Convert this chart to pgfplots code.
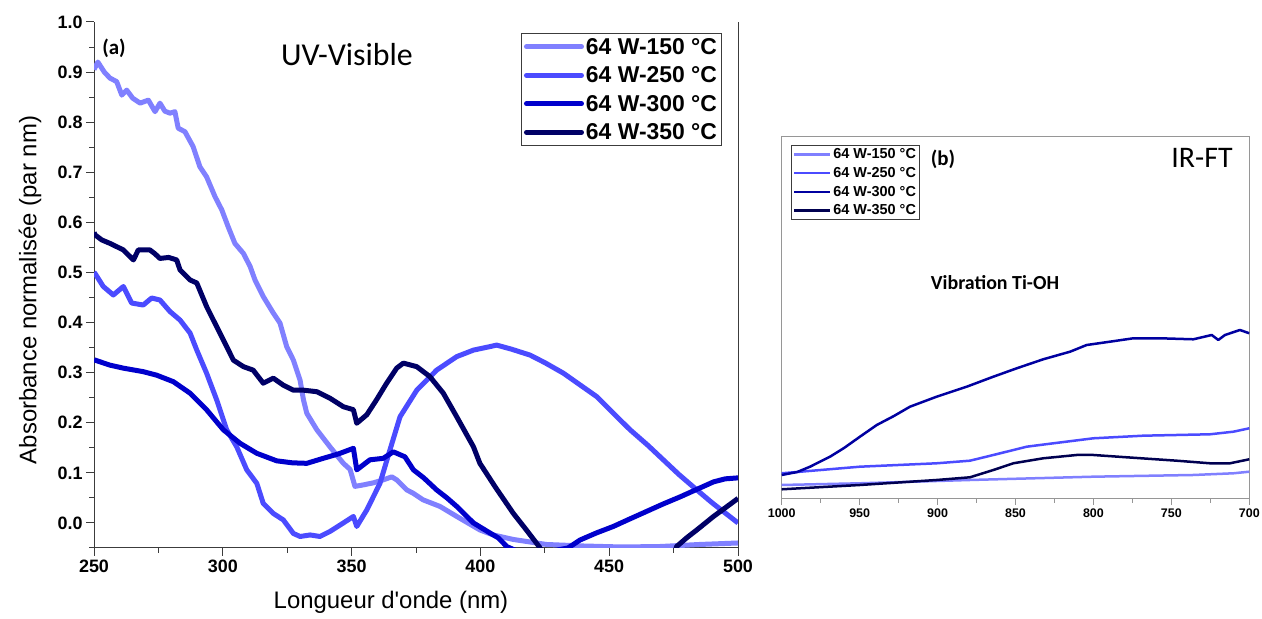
\documentclass[border=0pt]{standalone}
\usepackage{pgfplots}
\pgfplotsset{compat=1.18}
\usepackage{fontspec}
\setmainfont{Liberation Sans}
\newfontfamily\plainarial{Liberation Sans}
\newfontfamily\calibri{Carlito}
\definecolor{cA}{RGB}{128,128,255}
\definecolor{cB}{RGB}{75,75,255}
\definecolor{cC}{RGB}{0,0,204}
\definecolor{cD}{RGB}{0,0,102}
\definecolor{cCb}{RGB}{0,0,160}
\definecolor{cDb}{RGB}{0,0,80}
\definecolor{axgray}{RGB}{150,150,150}
\definecolor{axdark}{RGB}{60,60,60}

\begin{document}
\begin{tikzpicture}[x=1bp,y=1bp]
\path[use as bounding box] (0,0) rectangle (1262,619);
\begin{axis}[
  at={(94bp,71bp)}, anchor=south west, scale only axis,
  width=644bp, height=526bp,
  xmin=250, xmax=500, ymin=-0.05, ymax=1.0,
  axis x line*=bottom, axis y line*=box, ytick pos=left,
  xtick={250,300,350,400,450,500}, minor x tick num=1,
  ytick={0,0.1,0.2,0.3,0.4,0.5,0.6,0.7,0.8,0.9,1.0},
  minor ytick={-0.05,0.05,0.15,0.25,0.35,0.45,0.55,0.65,0.75,0.85,0.95},
  tick align=outside, major tick length=8bp, minor tick length=5bp,
  tick style={axdark, line width=1bp},
  axis line style={axdark, line width=1bp},
  /pgf/number format/assume math mode=true,
  ticklabel style={font=\bfseries\fontsize{18}{18}\selectfont},
  yticklabel style={/pgf/number format/fixed, /pgf/number format/fixed zerofill, /pgf/number format/precision=1},
  xticklabel style={/pgf/number format/1000 sep={}},
  legend style={at={(axis description cs:0.9752,0.9791)}, anchor=north east,
    draw=axdark, line width=1.2bp, font=\bfseries\fontsize{23}{23}\selectfont,
    row sep=7bp, inner sep=2.5bp, cells={anchor=west}},
  legend image code/.code={\draw[#1, line width=5bp, line cap=round] (0bp,0bp) -- (55bp,0bp);},
  every axis plot/.append style={line width=5bp, line join=round, no marks},
  clip=true,
]
\addplot[cA] table {
250 0.905
251.5 0.920
254 0.900
256.2 0.888
258.8 0.881
260.8 0.854
262.7 0.864
265 0.848
267.9 0.838
271.1 0.844
273.7 0.821
275.6 0.838
277.5 0.822
279.5 0.818
281.4 0.821
282.7 0.788
285.3 0.781
288.5 0.751
291.1 0.711
293.7 0.691
297 0.651
299.6 0.625
302.1 0.591
304.7 0.558
308 0.538
310.6 0.512
312.5 0.485
315.7 0.452
319.6 0.419
322.2 0.399
324.8 0.352
327.4 0.325
330 0.285
331.3 0.246
332.6 0.219
336.5 0.186
341.6 0.152
346.8 0.119
349.4 0.107
351.3 0.073
354.6 0.076
358.4 0.080
362.3 0.086
365.6 0.092
367.5 0.086
371.4 0.066
374 0.059
377.8 0.046
384.3 0.033
390.8 0.013
399.8 -0.014
405 -0.024
412.8 -0.033
425.7 -0.043
440 -0.046
455 -0.048
470 -0.047
485 -0.043
500 -0.040
};
\addlegendentry{64 W-150 °C}
\addplot[cB] table {
250 0.500
250.4 0.498
253.6 0.472
257.5 0.455
261.4 0.472
264.6 0.439
269.1 0.435
272.4 0.449
275.6 0.445
279.5 0.422
283.4 0.405
287.3 0.379
289.9 0.345
293.7 0.299
297.6 0.246
301.5 0.186
305.4 0.152
309.3 0.106
313.2 0.079
315.7 0.039
319.6 0.019
323.5 0.006
327.4 -0.021
330 -0.027
333.9 -0.024
337.7 -0.027
341.6 -0.017
346.8 0.000
350.7 0.013
352 -0.007
355.9 0.026
361 0.079
364.9 0.146
368.8 0.212
375.3 0.265
383 0.305
390.8 0.332
397.3 0.345
403.7 0.352
406.3 0.355
412 0.347
419.3 0.335
425 0.320
432.2 0.299
438 0.278
445.2 0.252
451 0.222
458.1 0.186
465 0.155
471 0.126
477 0.097
484 0.066
490 0.040
495 0.020
500 0.000
};
\addlegendentry{64 W-250 °C}
\addplot[cC] table {
250 0.327
250.4 0.325
256.2 0.315
261.4 0.309
269.1 0.302
274.3 0.295
280.8 0.282
287.3 0.259
293.7 0.226
300.2 0.186
306.7 0.159
313.2 0.139
320.9 0.124
327 0.120
332.6 0.119
339 0.129
345 0.138
350.7 0.149
352 0.106
357.1 0.126
362.3 0.129
366.2 0.142
370.7 0.132
374 0.106
378 0.090
383 0.066
387 0.050
390.8 0.033
397.3 0.000
403.7 -0.020
407 -0.030
410.2 -0.047
415 -0.058
425.7 -0.058
434 -0.050
438.7 -0.034
445 -0.020
451.6 -0.007
458 0.008
464.5 0.023
471 0.038
477.5 0.052
484 0.067
490.5 0.082
495 0.088
500 0.090
};
\addlegendentry{64 W-300 °C}
\addplot[cD] table {
250 0.580
250.4 0.575
253 0.565
256.2 0.558
261.4 0.545
265.3 0.525
267.2 0.545
271.7 0.545
273.5 0.538
275.6 0.528
279 0.530
282.1 0.525
283.4 0.505
287.3 0.485
289.9 0.479
293.7 0.432
297.6 0.392
301.5 0.352
304.1 0.325
308 0.312
311.8 0.305
315.7 0.279
319.6 0.289
323.5 0.275
327.4 0.265
331.3 0.265
336.5 0.262
341.6 0.249
346.8 0.232
350.7 0.226
352 0.199
355.9 0.216
359.7 0.246
363.6 0.279
367.5 0.309
370.1 0.319
375.3 0.312
380.4 0.292
385.6 0.259
390.8 0.212
397.3 0.152
399.8 0.119
406 0.070
412.8 0.019
418 -0.015
423.2 -0.050
426 -0.080
474 -0.080
476.2 -0.047
480 -0.030
484 -0.014
490.5 0.013
495 0.030
500 0.049
};
\addlegendentry{64 W-350 °C}
\end{axis}

\begin{axis}[
  at={(781.7bp,120bp)}, anchor=south west, scale only axis,
  width=467.6bp, height=362bp,
  xmin=700, xmax=1000, x dir=reverse, ymin=0, ymax=362,
  ytick=\empty, xtick={700,750,800,850,900,950,1000}, minor x tick num=1,
  xtick pos=bottom,
  tick align=outside, major tick length=6bp, minor tick length=4bp,
  tick style={axgray, line width=1bp},
  axis line style={axgray, line width=1bp},
  /pgf/number format/assume math mode=true,
  xticklabel style={font=\bfseries\fontsize{12.5}{12.5}\selectfont, /pgf/number format/1000 sep={}},
  legend style={at={(axis description cs:0.0199,0.9779)}, anchor=north west,
    draw=axdark, line width=0.8bp, font=\bfseries\fontsize{14.5}{14.5}\selectfont,
    row sep=3bp, inner sep=1.5bp, cells={anchor=west}},
  legend image code/.code={\draw[#1, line width=2.5bp] (0bp,0bp) -- (36bp,0bp);},
  every axis plot/.append style={line width=2.5bp, line join=round, no marks},
]
\addplot[cA] table {
1000 14
949.8 15.7
879.2 19
800 22.3
735.9 24
710.2 25.7
700 27.3
};
\addlegendentry{64 W-150 °C}
\addplot[cB] table {
1000 25.7
949.8 32.3
900.6 35.7
879.2 38.3
864.2 44
842.8 52.3
825.7 55.7
800 60.7
768 63.3
725.2 64.7
710.2 67.3
700 70.7
};
\addlegendentry{64 W-250 °C}
\addplot[cCb] table {
1000 24
990 27
981.8 32.3
969 42.3
960 51
949.8 62.3
939 74
928 83
917.7 92.3
900.6 102.3
881.3 112.3
864.2 122.3
849.2 130.7
832.2 139.7
815 147.3
804.3 154
789.4 157.3
774.4 160.7
757.3 160.7
735.9 159.7
724.1 164
719.9 159
715.6 164
706 169
700 165.7
};
\addlegendentry{64 W-300 °C}
\addplot[cDb] table {
1000 9.7
949.8 14
900.6 19
879.2 21.7
864.2 29
851.4 35.7
832.2 40.7
810.8 44
800 44
778.7 41.7
746.6 38.3
725.2 35.7
712.4 35.7
700 39.7
};
\addlegendentry{64 W-350 °C}
\end{axis}

\node[font=\calibri\fontsize{32}{32}\selectfont] at (347,564) {UV-Visible};
\node[font=\calibri\bfseries\fontsize{21}{21}\selectfont] at (114,571) {(a)};
\node[font=\calibri\bfseries\fontsize{21}{21}\selectfont] at (943,460) {(b)};
\node[font=\calibri\fontsize{30}{30}\selectfont] at (1202,461) {IR-FT};
\node[font=\calibri\bfseries\fontsize{20}{20}\selectfont] at (995,336) {Vibration Ti-OH};
\node[font=\plainarial\fontsize{24}{24}\selectfont] at (391,17) {Longueur d'onde (nm)};
\node[font=\plainarial\fontsize{24}{24}\selectfont, rotate=90] at (30,329) {Absorbance normalisée (par nm)};
\end{tikzpicture}
\end{document}
